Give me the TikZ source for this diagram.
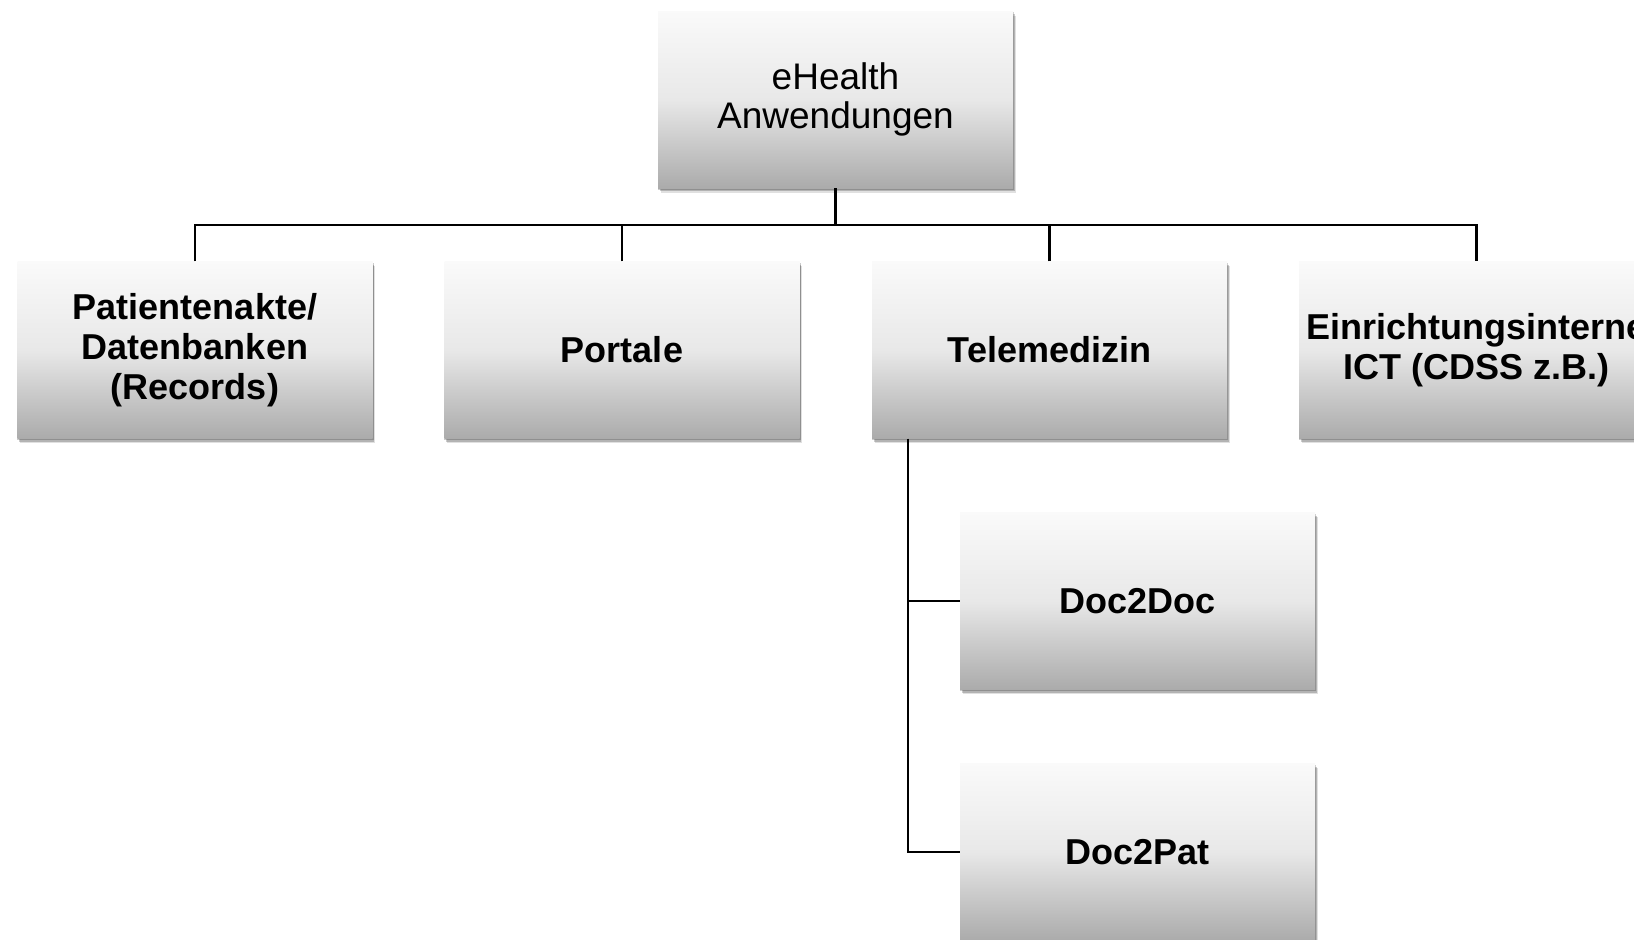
\documentclass[tikz,border=0pt]{standalone}
\usepackage{fontspec}
\setmainfont{Liberation Sans}
\usetikzlibrary{shadows}
\tikzset{
  box/.style={rectangle, minimum width=355pt, minimum height=177pt, inner sep=0pt, align=center,
    top color=white!98!black, bottom color=white!67!black, middle color=white!91!black,
    drop shadow={shadow xshift=2.5pt, shadow yshift=-4.5pt, opacity=0.12, fill=black},
    drop shadow={shadow xshift=1.5pt, shadow yshift=-3pt, opacity=0.2, fill=black},
    drop shadow={shadow xshift=0.5pt, shadow yshift=-1.5pt, shadow scale=1.004, opacity=0.2, fill=black},
    font=\fontsize{36}{40}\selectfont\bfseries},
  topbox/.style={box, font=\fontsize{37}{39}\selectfont},
  conn/.style={line width=2.2pt, draw=black}
}
\begin{document}
\begin{tikzpicture}[x=1pt,y=-1pt]
\useasboundingbox (0,0) rectangle (1634,940);
\clip (0,0) rectangle (1634,940);
\fill[white] (0,0) rectangle (1634,940);
\node[topbox] (top) at (835.5,99.5) {eHealth\\Anwendungen};
\node[box] (rec) at (195,350) {Patientenakte/\\Datenbanken\\(Records)};
\node[box] (portal) at (622,350) {Portale};
\node[box] (tele) at (1049.5,350) {Telemedizin};
\node[box] (ict) at (1476.5,350) {Einrichtungsinterne\\ICT (CDSS z.B.)};
\node[box] (d2d) at (1137.5,601) {Doc2Doc};
\node[box] (d2p) at (1137.5,852) {Doc2Pat};
\coordinate (bar) at (0,225);
\draw[conn] (top.south) -- (top.south |- bar);
\draw[conn] (rec.north) |- (ict.north |- bar) -- (ict.north);
\draw[conn] (portal.north) -- (portal.north |- bar);
\draw[conn] (tele.north) -- (tele.north |- bar);
\coordinate (tl) at ([xshift=36pt]tele.south west);
\draw[conn] (tl) |- (d2p.west);
\draw[conn] (d2d.west) -- (tl |- d2d.west);
\end{tikzpicture}
\end{document}
